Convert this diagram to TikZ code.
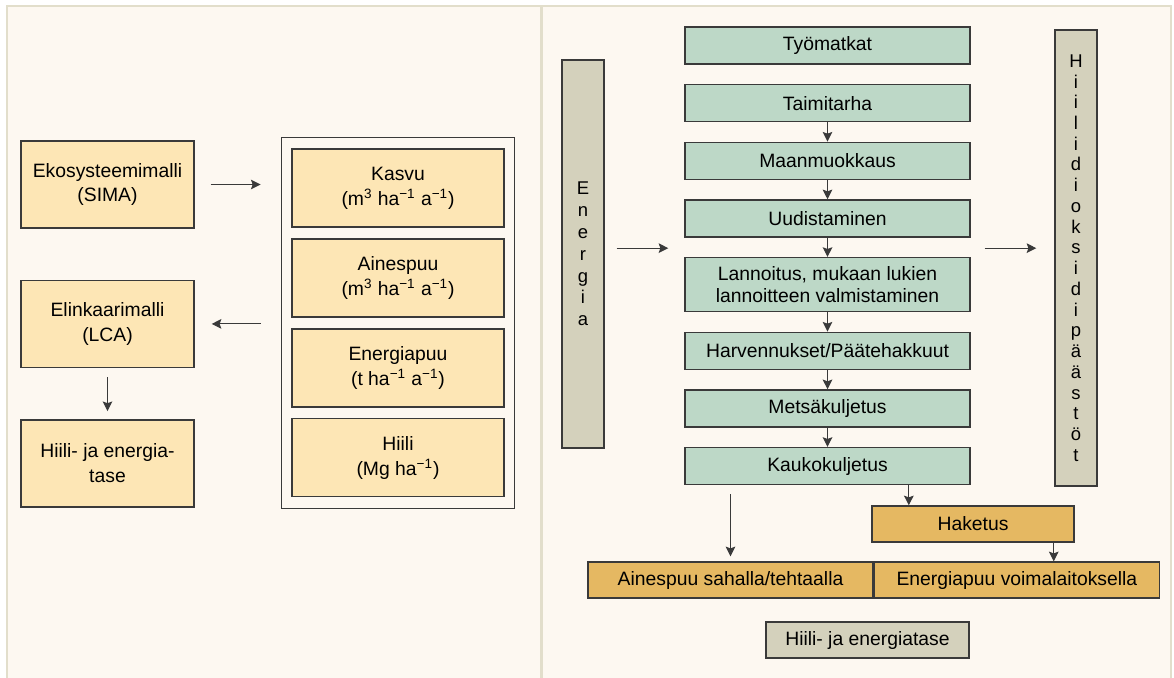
\documentclass[tikz,border=0pt]{standalone}
\usepackage{fontspec}
\setmainfont{Liberation Sans}
\usetikzlibrary{arrows.meta, positioning, fit}
\definecolor{panelbg}{HTML}{FDF8F1}
\definecolor{panelline}{HTML}{E2DECB}
\definecolor{modelfill}{HTML}{FDE6B5}
\definecolor{stagefill}{HTML}{BDD8C7}
\definecolor{woodfill}{HTML}{E5B862}
\definecolor{sidefill}{HTML}{D4D1BC}
\definecolor{boxline}{HTML}{3A3A3A}

\begin{document}
\begin{tikzpicture}[
  model/.style={rectangle, draw=boxline, line width=0.8pt, fill=modelfill,
                minimum width=3.46cm, minimum height=1.74cm, align=center,
                font=\fontsize{11}{14.2}\selectfont},
  output/.style={model, minimum width=4.24cm, minimum height=1.56cm},
  stage/.style={rectangle, draw=boxline, line width=0.8pt, fill=stagefill,
                minimum width=5.7cm, minimum height=0.74cm, align=center,
                font=\fontsize{11}{13}\selectfont},
  wood/.style={stage, fill=woodfill, minimum height=0.72cm},
  side/.style={rectangle, draw=boxline, line width=0.8pt, fill=sidefill,
               minimum width=0.84cm, align=center, inner sep=0pt},
  arrow/.style={-{Stealth[length=5.5pt, width=5.5pt, inset=1pt]}, line width=0.6pt, boxline}
]
\useasboundingbox (0,0) rectangle (23.48,-13.54);
\fill[white] (0,0) rectangle (23.48,-13.54);
\draw[panelline, line width=1.2pt, fill=panelbg] (0.14,-0.12) rectangle (10.82,-13.8);
\draw[panelline, line width=1.2pt, fill=panelbg] (10.84,-0.12) rectangle (23.42,-13.8);

% models
\node[model] (eko) at (2.15,-3.69) {Ekosysteemimalli\\(SIMA)};
\node[model, below=1.02cm of eko] (lca) {Elinkaarimalli\\(LCA)};
\node[model, below=1.02cm of lca] (tase) {Hiili- ja energia-\\tase};

\node[output] (kasvu) at (7.96,-3.76) {Kasvu\\(m\textsuperscript{3} ha\textsuperscript{−1} a\textsuperscript{−1})};
\node[output, below=0.21cm of kasvu] (aines) {Ainespuu\\(m\textsuperscript{3} ha\textsuperscript{−1} a\textsuperscript{−1})};
\node[output, below=0.21cm of aines] (energiapuu) {Energiapuu\\(t ha\textsuperscript{−1} a\textsuperscript{−1})};
\node[output, below=0.21cm of energiapuu] (hiili) {Hiili\\(Mg ha\textsuperscript{−1})};
\node[draw=boxline, line width=0.8pt, inner xsep=0.2cm, inner ysep=0.22cm, fit=(kasvu)(hiili)] (tulos) {};

\draw[arrow, shorten <=0.32cm, shorten >=0.4cm] (eko.east) -- (eko.east -| tulos.west);
\draw[arrow, shorten <=0.4cm, shorten >=0.34cm] (lca.east -| tulos.west) -- (lca.east);
\draw[arrow, shorten <=0.18cm, shorten >=0.16cm] (lca.south) -- (tase.north);

% chain
\node[stage] (tyomatkat) at (16.55,-0.91) {Työmatkat};
\node[stage, below=0.385cm of tyomatkat] (taimi) {Taimitarha};
\node[stage, below=0.385cm of taimi] (maan) {Maanmuokkaus};
\node[stage, below=0.385cm of maan] (uud) {Uudistaminen};
\node[stage, below=0.385cm of uud, minimum height=1.08cm] (lann) {Lannoitus, mukaan lukien\\lannoitteen valmistaminen};
\node[stage, below=0.385cm of lann] (harv) {Harvennukset/Päätehakkuut};
\node[stage, below=0.385cm of harv] (mets) {Metsäkuljetus};
\node[stage, below=0.385cm of mets] (kauko) {Kaukokuljetus};

\foreach \a/\b in {taimi/maan, maan/uud, uud/lann, lann/harv, harv/mets, mets/kauko}
  \draw[arrow] (\a) -- (\b);

\node[side, minimum height=7.76cm, font=\fontsize{10.5}{12.4}\selectfont] (energia) at (11.66,-5.08) {E\\n\\e\\r\\g\\i\\a};
\node[side, minimum height=9.12cm, font=\fontsize{10.5}{11.8}\selectfont] (paastot) at (21.52,-5.16) {H\\i\\i\\l\\i\\d\\i\\o\\k\\s\\i\\d\\i\\p\\ä\\ä\\s\\t\\ö\\t};

\coordinate (mid) at ([yshift=-0.21cm]uud.south);
\draw[arrow, shorten <=0.24cm, shorten >=0.32cm] (energia.east |- mid) -- (uud.west |- mid);
\draw[arrow, shorten <=0.28cm, shorten >=0.36cm] (uud.east |- mid) -- (paastot.west |- mid);

% products
\node[wood, minimum width=4.04cm] (haketus) at (19.46,-10.48) {Haketus};
\node[wood] (ainsaha) at (14.61,-11.6) {Ainespuu sahalla/tehtaalla};
\node[wood, right=0pt of ainsaha] (voima) {Energiapuu voimalaitoksella};
\node[side, minimum width=4.06cm, minimum height=0.72cm, font=\fontsize{11}{13}\selectfont] (ktase) at (17.35,-12.8) {Hiili- ja energiatase};

\draw[arrow] ([xshift=0.75cm]haketus.north west |- kauko.south) -- ([xshift=0.75cm]haketus.north west);
\draw[arrow, shorten <=0.18cm, shorten >=0.1cm] (ainsaha.north |- kauko.south) -- (ainsaha.north);
\draw[arrow] ([xshift=-0.42cm]haketus.south east) -- ([xshift=-0.42cm]haketus.south east |- voima.north);
\end{tikzpicture}
\end{document}
